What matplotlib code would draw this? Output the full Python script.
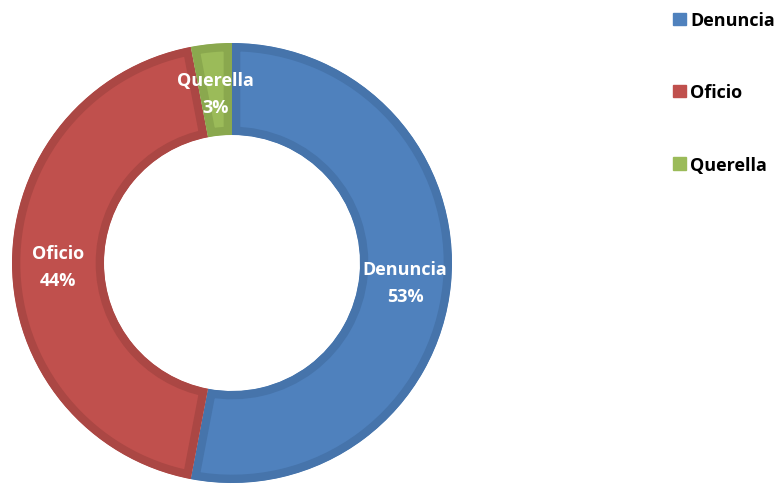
import matplotlib.pyplot as plt
from matplotlib.patches import Patch

# datos
categorias = ["Denuncia", "Oficio", "Querella"]
valores = [53, 44, 3]
colores = ["#4F81BD", "#C0504D", "#9BBB59"]
bordes = ["#4674AB", "#AB4744", "#8AA84E"]

plt.rcParams['font.family'] = ['Open Sans', 'DejaVu Sans']
plt.rcParams['font.stretch'] = 'normal'

fig = plt.figure(figsize=(7.8, 4.85), dpi=100)
ax = fig.add_axes([0, 0, 1, 1])

etiquetas = [f"{c}\n{v}%" for c, v in zip(categorias, valores)]
wedges, textos = ax.pie(
    valores,
    labels=etiquetas,
    colors=colores,
    startangle=90,
    counterclock=False,
    center=(232, 221),
    radius=220,
    labeldistance=174 / 220,
    wedgeprops=dict(width=92, linewidth=12, antialiased=True),
    frame=True,
)

# borde oscuro solo por dentro de cada sector
for w, b in zip(wedges, bordes):
    w.set_edgecolor(b)
    w.set_clip_on(True)
    w.set_clip_path(w)

for t in textos:
    t.set_horizontalalignment('center')
    t.set_verticalalignment('center')
    t.set_color('white')
    t.set_fontweight('bold')
    t.set_fontstretch('normal')
    t.set_fontsize(13)
    t.set_linespacing(1.65)
    x, y = t.get_position()
    t.set_position((x, y - 3.5))

ax.set_xlim(0, 780)
ax.set_ylim(0, 485)
ax.set_aspect('equal')
ax.axis('off')

handles = [Patch(facecolor=c, edgecolor=c) for c in colores]
leg = ax.legend(
    handles, categorias,
    loc='upper left',
    bbox_to_anchor=(666 / 780, 1 - 5 / 485),
    frameon=False,
    prop=dict(weight='bold', size=13, stretch='normal'),
    handlelength=0.7,
    handleheight=0.7,
    handletextpad=0.25,
    labelspacing=3.0,
    borderaxespad=0,
)

plt.savefig('out.png', dpi=100)
